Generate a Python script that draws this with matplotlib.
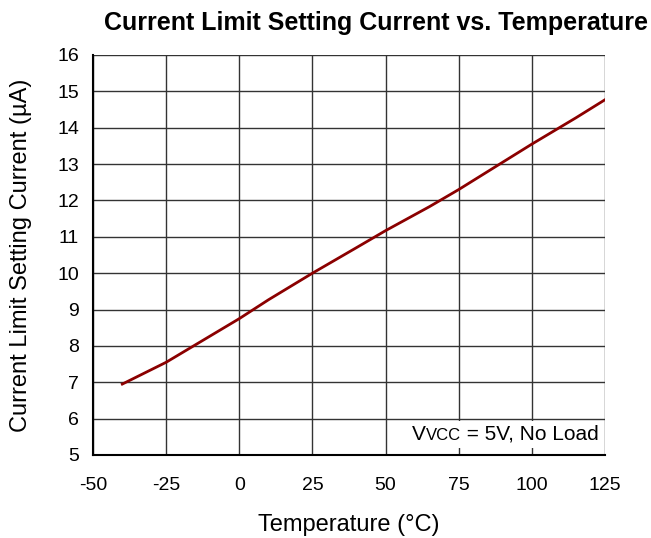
import numpy as np
import matplotlib.pyplot as plt
from matplotlib.offsetbox import TextArea, HPacker, AnchoredOffsetbox

plt.rcParams['font.family'] = ['Liberation Sans', 'DejaVu Sans']
plt.rcParams['axes.unicode_minus'] = False

# temperature (C) and current (uA)
temp = [-40, -25, -10, 0, 10, 25, 40, 50, 65, 75, 90, 100, 115, 125]
current = [6.95, 7.55, 8.27, 8.75, 9.27, 10.0, 10.7, 11.17, 11.83, 12.3, 13.05, 13.55, 14.27, 14.77]
xticks = [-50, -25, 0, 25, 50, 75, 100, 125]
yticks = list(range(5, 17))

fig = plt.figure(figsize=(6.51, 5.38), dpi=100)
ax = fig.add_axes([0.1429, 0.1543, 0.7865, 0.7435])

ax.plot(temp, current, color='#8b0000', lw=2, zorder=3)

ax.set_xlim(-50, 125)
ax.set_ylim(5, 16)
ax.set_xticks(xticks)
ax.set_yticks(yticks)
ax.grid(True, color='#333333', lw=1)
ax.tick_params(length=0, labelsize=14)
ax.tick_params(axis='x', pad=16)
ax.tick_params(axis='y', pad=10)
for s in ['top', 'right']:
    ax.spines[s].set_visible(False)
for s in ['left', 'bottom']:
    ax.spines[s].set_linewidth(1.5)

# condition label, "VCC" drawn smaller on the same baseline
parts = [TextArea('V', textprops=dict(fontsize=15)),
         TextArea('VCC', textprops=dict(fontsize=12)),
         TextArea(' = 5V, No Load', textprops=dict(fontsize=15))]
box = HPacker(children=parts, align='baseline', pad=0, sep=0)
anch = AnchoredOffsetbox(loc='lower right', child=box, pad=0.3, borderpad=0.15,
                         frameon=True, bbox_to_anchor=(1.0, 0.012),
                         bbox_transform=ax.transAxes)
anch.patch.set_edgecolor('none')
anch.patch.set_facecolor('white')
anch.zorder = 4
ax.add_artist(anch)

fig.text(0.578, 0.958, 'Current Limit Setting Current vs. Temperature', fontsize=18,
         fontweight='bold', ha='center', va='center')
ax.set_xlabel('Temperature (°C)', fontsize=17, labelpad=14)
ax.set_ylabel('Current Limit Setting Current (µA)', fontsize=17, labelpad=18)

fig.savefig('out.png', dpi=100)
